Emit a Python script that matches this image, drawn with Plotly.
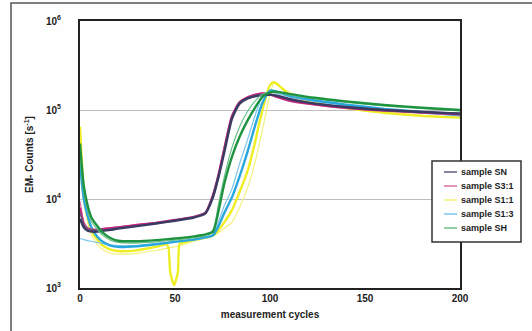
import plotly.graph_objects as go

# ---------------- data ----------------
cycles = [0, 2, 4, 6, 9, 12, 16, 20, 30, 40, 50, 60, 66, 70, 73, 76, 80, 84, 88,
          92, 96, 100, 104, 110, 120, 140, 160, 180, 200]

sn = [6000, 4800, 4400, 4300, 4300, 4400, 4500, 4650, 4950, 5300, 5700, 6200, 6900,
      10500, 18000, 34000, 80000, 118000, 134000, 142000, 147000, 148000, 144000,
      133000, 121000, 108000, 100000, 95000, 91000]
sn_rep = [7000, 5200, 4600, 4500, 4450, 4500, 4600, 4700, 5000, 5350, 5750, 6250, 7000,
          11000, 19000, 36000, 84000, 122000, 137000, 145000, 150000, 150000, 145000,
          134000, 122000, 109000, 101000, 96000, 92000]

s31 = [8000, 5200, 4600, 4500, 4500, 4600, 4700, 4800, 5100, 5400, 5800, 6300, 7000,
       11000, 19000, 37000, 85000, 122000, 138000, 148000, 153000, 150000, 140000,
       128000, 118000, 106000, 99000, 94000, 90000]
s31_rep = [9500, 5600, 4800, 4600, 4550, 4650, 4750, 4850, 5150, 5450, 5850, 6350, 7100,
           11500, 20000, 39000, 88000, 125000, 140000, 150000, 155000, 152000, 141000,
           129000, 117000, 104000, 97000, 92000, 88000]

s13 = [25000, 10000, 6500, 4800, 3800, 3300, 3000, 2900, 2950, 3100, 3300, 3500, 3700,
       3900, 5000, 7000, 10500, 18000, 33000, 65000, 120000, 165000, 160000, 145000,
       132000, 115000, 103000, 95000, 88000]
s13_rep = [3600, 3500, 3400, 3350, 3250, 3150, 3050, 3000, 3000, 3150, 3350, 3550, 3750,
           4000, 5600, 8500, 13000, 25000, 45000, 85000, 140000, 160000, 152000, 140000,
           128000, 112000, 100000, 92000, 86000]

sh = [42000, 14000, 8500, 6200, 5000, 4200, 3650, 3400, 3350, 3450, 3600, 3800, 4000,
      4300, 7500, 15000, 30000, 50000, 75000, 105000, 140000, 158000, 160000, 152000,
      140000, 125000, 114000, 106000, 100000]
sh_rep = [30000, 12000, 7500, 5600, 4600, 3900, 3450, 3250, 3200, 3300, 3450, 3650, 3900,
          4500, 9000, 18000, 38000, 65000, 95000, 125000, 150000, 160000, 156000, 148000,
          137000, 122000, 111000, 104000, 98000]

cycles_s11 = [0, 2, 4, 6, 9, 12, 16, 20, 30, 40, 46, 47.5, 49.5, 51.5, 52.5, 56, 60, 66,
              70, 73, 76, 80, 84, 88, 92, 96, 100, 102, 104, 110, 120, 140, 160, 180, 200]
s11 = [65000, 12000, 6500, 4500, 3500, 3000, 2700, 2600, 2650, 2900, 3050, 1500, 1080,
       1500, 3150, 3300, 3500, 3700, 3900, 4500, 5500, 7500, 12000, 20000, 42000, 100000,
       190000, 205000, 195000, 150000, 125000, 105000, 93000, 86000, 82000]
s11_rep = [20000, 9000, 5500, 4000, 3100, 2700, 2450, 2400, 2450, 2650, 2800, 2850, 2900,
           2950, 3000, 3150, 3350, 3600, 3800, 4200, 4700, 5500, 8000, 13000, 25000, 60000,
           150000, 200000, 190000, 160000, 128000, 106000, 94000, 87000, 83000]

names = ["sample SN", "sample S3:1", "sample S1:1", "sample S1:3", "sample SH"]
tick_vals_y = [1e3, 1e4, 1e5, 1e6]
tick_text_y = ["10<sup>3</sup>", "10<sup>4</sup>", "10<sup>5</sup>", "10<sup>6</sup>"]
tick_vals_x = [0, 50, 100, 150, 200]

# ---------------- styling ----------------
main_cols = ["#3a3a62", "#c4287c", "#eeee22", "#2aa6de", "#1f9440"]
pale_cols = ["#5c5c80", "#d870a4", "#f4f07c", "#7cc6ee", "#6cbf8c"]
font_family = "Liberation Sans, Arial, sans-serif"

series = [
    (cycles, sn, sn_rep),
    (cycles, s31, s31_rep),
    (cycles_s11, s11, s11_rep),
    (cycles, s13, s13_rep),
    (cycles, sh, sh_rep),
]

fig = go.Figure()
order = [2, 3, 1, 0, 4]
for i in order:
    xs, main, rep = series[i]
    fig.add_trace(go.Scatter(x=xs, y=rep, mode="lines", showlegend=False, name=names[i],
                             line=dict(color=pale_cols[i], width=1.2, shape="spline", smoothing=0.6),
                             hoverinfo="skip"))
    fig.add_trace(go.Scatter(x=xs, y=main, mode="lines", showlegend=False, name=names[i],
                             line=dict(color=main_cols[i], width=2.4, shape="spline", smoothing=0.6),
                             hoverinfo="skip"))

L, R, T, B = 80, 72, 21, 43
W, H = 532, 331
pw, ph = W - L - R, H - T - B

def px2x(px):
    return (px - L) / pw

def py2y(py):
    return (H - B - py) / ph

# compact legend box (drawn as shapes + text so the row spacing matches the reference)
shapes = [dict(type="rect", xref="paper", yref="paper",
               x0=px2x(11), y0=py2y(345), x1=px2x(545), y1=py2y(3),
               line=dict(color="#555555", width=1.5), fillcolor="rgba(0,0,0,0)",
               layer="below"),
          dict(type="rect", xref="paper", yref="paper",
               x0=px2x(432), y0=py2y(242), x1=px2x(521), y1=py2y(161),
               line=dict(color="#333333", width=1.5), fillcolor="white", layer="above")]
annotations = []
for i, nm in enumerate(names):
    yy = 172 + 14 * i
    shapes.append(dict(type="line", xref="paper", yref="paper",
                       x0=px2x(444), x1=px2x(457), y0=py2y(yy), y1=py2y(yy),
                       line=dict(color=pale_cols[i], width=1.5), layer="above"))
    annotations.append(dict(text=nm, xref="paper", yref="paper", x=px2x(459), y=py2y(yy),
                            xanchor="left", yanchor="middle", showarrow=False,
                            font=dict(family=font_family, size=9, color="#222222", weight="bold")))

fig.update_layout(
    width=W, height=H,
    margin=dict(l=L, r=R, t=T, b=B, pad=0),
    paper_bgcolor="#fefefe", plot_bgcolor="white",
    font=dict(family=font_family, size=10, color="#222222"),
    showlegend=False,
    xaxis=dict(range=[0, 200], tickvals=tick_vals_x, showgrid=False, zeroline=False,
               showline=True, mirror=True, linecolor="#222222", linewidth=2,
               ticks="", tickfont=dict(size=10, weight="bold"),
               title=dict(text="measurement cycles", standoff=8,
                          font=dict(size=10, weight="bold")),
               automargin=False),
    yaxis=dict(type="log", range=[3, 6], tickvals=tick_vals_y, ticktext=tick_text_y,
               showgrid=True, gridcolor="#bdbdbd", gridwidth=1, zeroline=False,
               showline=True, mirror=True, linecolor="#222222", linewidth=2,
               ticks="", ticklabelstandoff=15, tickfont=dict(size=10, weight="bold"),
               title=dict(text="EM- Counts [s<sup>-1</sup>]", standoff=10,
                          font=dict(size=10, weight="bold")),
               automargin=False),
    shapes=shapes,
    annotations=annotations,
)

fig.write_html("out.html")
